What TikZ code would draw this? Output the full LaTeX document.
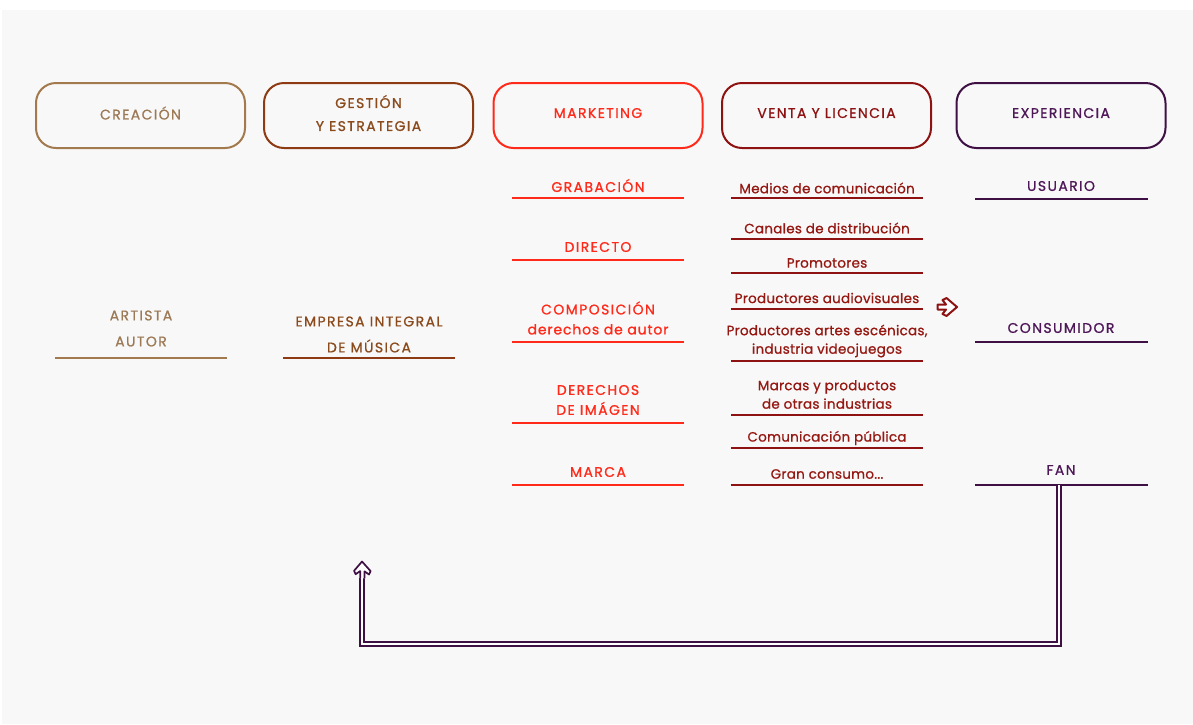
\documentclass[tikz,border=0pt]{standalone}
\usepackage{fontspec}
\setmainfont{Poppins}
\newfontfamily\pfont{Poppins}[FakeBold=0.9]
\usetikzlibrary{arrows.meta}
\definecolor{cCre}{HTML}{A27A4E}
\definecolor{cCreT}{HTML}{9C7A56}
\definecolor{cGes}{HTML}{8E3A12}
\definecolor{cGesT}{HTML}{8B4A1C}
\definecolor{cMkt}{HTML}{FF2A1A}
\definecolor{cVen}{HTML}{8E1212}
\definecolor{cVenT}{HTML}{961812}
\definecolor{cExp}{HTML}{3E1044}
\definecolor{cExpT}{HTML}{4E1858}
\definecolor{bgc}{HTML}{F8F8F8}
\tikzset{
  headbox/.style={draw, line width=2pt, rounded corners=20pt, minimum width=209pt, minimum height=65pt, align=center, font=\pfont\fontsize{14}{23}\selectfont\addfontfeature{LetterSpace=10}, inner sep=0pt, text depth=5pt},
  itemtxt/.style={align=center, inner sep=0pt, font=\pfont\fontsize{14}{#1}\selectfont\addfontfeature{LetterSpace=10}},
  itemtxt/.default=20,
  smalltxt/.style={align=center, inner sep=0pt, font=\pfont\fontsize{13.5}{18.5}\selectfont\addfontfeature{LetterSpace=2}},
  uline/.style={line width=2.4pt},
  retarrow/.style={draw=cExp, line width=1.7pt, double=white, double distance=2pt},
  rethead/.style={draw=cExp, line width=1.7pt, fill=white, line join=round},
}
\begin{document}
\begin{tikzpicture}[x=1pt,y=-1pt]
\useasboundingbox (0,0) rectangle (1193,724);
\fill[white] (0,0) rectangle (1193,724);
\fill[bgc] (2,10) rectangle (1193,724);
% headers
\node[headbox, draw=cCre, text=cCreT] (cre) at (140.5,115.5) {CREACIÓN};
\node[headbox, draw=cGes, text=cGesT] (ges) at (368.5,115.5) {GESTIÓN\\Y ESTRATEGIA};
\node[headbox, draw=cMkt, text=cMkt] (mkt) at (598,115.5) {MARKETING};
\node[headbox, draw=cVen, text=cVen] (ven) at (826.5,115.5) {VENTA Y LICENCIA};
\node[headbox, draw=cExp, text=cExpT] (exp) at (1061,115.5) {EXPERIENCIA};
% creación
\node[itemtxt=26, text=cCreT] (art) at (141,328.5) {ARTISTA\\AUTOR};
\draw[uline, cCre] (55,358) -- (227,358);
% gestión
\node[itemtxt=26, text=cGesT] (emp) at (369,334.5) {EMPRESA INTEGRAL\\DE MÚSICA};
\draw[uline, cGes] (283,358) -- (455,358);
% marketing
\node[itemtxt, text=cMkt] (gra) at (598,185.5) {GRABACIÓN};
\draw[uline, cMkt] (512,198) -- (684,198);
\node[itemtxt, text=cMkt] (dir) at (598,247) {DIRECTO};
\draw[uline, cMkt] (512,260) -- (684,260);
\node[itemtxt, text=cMkt] (com) at (598,318) {COMPOSICIÓN\\\addfontfeature{LetterSpace=6}derechos de autor};
\draw[uline, cMkt] (512,342) -- (684,342);
\node[itemtxt, text=cMkt] (dim) at (598,400) {DERECHOS\\DE IMÁGEN};
\draw[uline, cMkt] (512,423) -- (684,423);
\node[itemtxt, text=cMkt] (mar) at (598,472) {MARCA};
\draw[uline, cMkt] (512,485) -- (684,485);
% venta
\node[smalltxt, text=cVenT] (med) at (827,188) {Medios de comunicación};
\draw[uline, cVen] (731,198) -- (923,198);
\node[smalltxt, text=cVenT] (can) at (827,228) {Canales de distribución};
\draw[uline, cVen] (731,239) -- (923,239);
\node[smalltxt, text=cVenT] (pro) at (827,263) {Promotores};
\draw[uline, cVen] (731,273) -- (923,273);
\node[smalltxt, text=cVenT] (aud) at (827,298) {Productores audiovisuales};
\draw[uline, cVen] (731,309) -- (923,309);
\node[smalltxt, text=cVenT] (esc) at (827,341) {Productores artes escénicas,\\industria videojuegos};
\draw[uline, cVen] (731,361) -- (923,361);
\node[smalltxt, text=cVenT] (mpr) at (827,394.5) {Marcas y productos\\de otras industrias};
\draw[uline, cVen] (731,415) -- (923,415);
\node[smalltxt, text=cVenT] (cpu) at (827,438) {Comunicación pública};
\draw[uline, cVen] (731,448) -- (923,448);
\node[smalltxt, text=cVenT] (gcm) at (827,474) {Gran consumo...};
\draw[uline, cVen] (731,485) -- (923,485);
% experiencia
\node[itemtxt, text=cExpT] (usu) at (1061,186) {USUARIO};
\draw[uline, cExp] (975,199) -- (1148,199);
\node[itemtxt, text=cExpT] (con) at (1061,328) {CONSUMIDOR};
\draw[uline, cExp] (975,342) -- (1148,342);
\node[itemtxt, text=cExpT] (fan) at (1061,470) {FAN};
\draw[uline, cExp] (975,485) -- (1148,485);
% small hollow arrow
\draw[draw=cVen, line width=2pt, fill=white, line join=round]
  (937.5,304.5) -- (946,304.5) -- (942.5,300) -- (946.5,298) -- (957,307)
  -- (946.5,316) -- (942.5,314) -- (946,309.5) -- (937.5,309.5) -- cycle;
% return arrow
\coordinate (fanc) at (1059,485);
\coordinate (retbase) at (362,578);
\coordinate (retend) at (362,561.5);
\draw[retarrow] (fanc) -- (1059,644) -- (362,644) -- (retbase);
\draw[rethead] ([xshift=-1.85pt]retbase) -- ++(0,-7) -- ++(-4.5,3.2) -- ++(-1.6,-3.4)
  -- (retend) -- ++(8.6,9.6) -- ++(-1.6,3.4) -- ++(-4.5,-3.2) -- ++(0,7);
\end{tikzpicture}
\end{document}
